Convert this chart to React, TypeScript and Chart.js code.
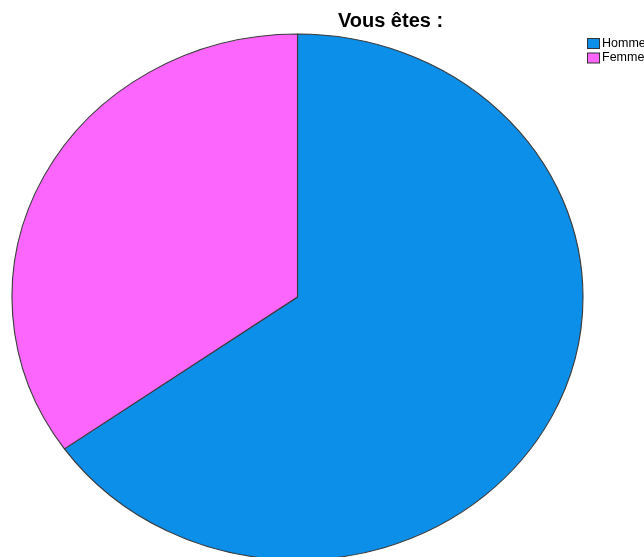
import React, { useEffect, useRef } from "react";
import { Chart, registerables } from "chart.js";

Chart.register(...registerables);

const categories = ["Homme", "Femme"];
const values = [65.2, 34.8];
const colors = ["#0b8fe9", "#fd66fd"];
const titleText = "Vous êtes :";

const ellipsePlugin = {
  id: "ellipse",
  beforeDatasetsDraw(chart: any) {
    const arc = chart.getDatasetMeta(0).data[0] as any;
    if (!arc) return;
    const r = arc.outerRadius;
    const ctx = chart.ctx;
    ctx.save();
    ctx.translate(297.5, 297);
    ctx.scale(285.5 / r, 263 / r);
    ctx.translate(-arc.x, -arc.y);
  },
  afterDatasetsDraw(chart: any) {
    chart.ctx.restore();
  },
};

const textPlugin = {
  id: "texts",
  afterDraw(chart: any) {
    const ctx = chart.ctx;
    ctx.save();
    ctx.fillStyle = "#000";
    ctx.font = "bold 20px 'Liberation Sans', Arial, sans-serif";
    ctx.textAlign = "center";
    ctx.textBaseline = "alphabetic";
    ctx.fillText(titleText, 390.5, 27);
    ctx.font = "12.5px 'Liberation Sans', Arial, sans-serif";
    ctx.textAlign = "left";
    ctx.textBaseline = "middle";
    categories.forEach((c, i) => {
      const y = 38 + i * 14.5;
      ctx.fillStyle = colors[i];
      ctx.fillRect(587.5, y + 0.5, 12, 10);
      ctx.strokeStyle = "#333";
      ctx.lineWidth = 1;
      ctx.strokeRect(587.5, y + 0.5, 12, 10);
      ctx.fillStyle = "#000";
      ctx.fillText(c, 602, y + 5.5);
    });
    ctx.restore();
  },
};

export default function App() {
  const ref = useRef<HTMLCanvasElement>(null);
  useEffect(() => {
    if (!ref.current) return;
    const chart = new Chart(ref.current, {
      type: "pie",
      data: {
        labels: categories,
        datasets: [
          {
            data: values,
            backgroundColor: colors,
            borderColor: "#3a3a3a",
            borderWidth: 1,
          },
        ],
      },
      options: {
        animation: false,
        responsive: false,
        layout: { padding: { top: 40, bottom: 10, left: 20, right: 60 } },
        plugins: {
          legend: { display: false },
          title: { display: false },
          tooltip: { enabled: false },
        },
      },
      plugins: [ellipsePlugin, textPlugin],
    });
    return () => chart.destroy();
  }, []);
  return (
    <div style={{ position: "fixed", left: 0, top: 0, width: 644, height: 557, background: "#fff" }}>
      <canvas ref={ref} width={644} height={557} style={{ width: 644, height: 557 }} />
    </div>
  );
}
